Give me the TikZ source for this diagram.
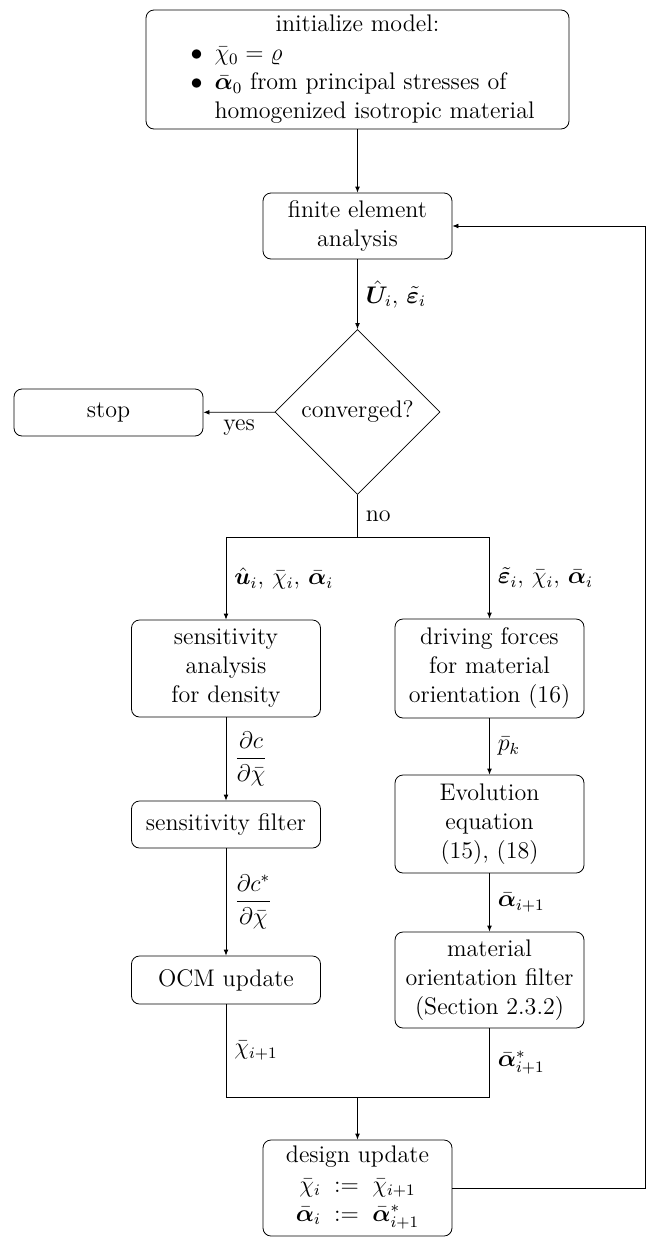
\documentclass[tikz,border=0pt]{standalone}
\usepackage{amsmath,bm}
\usetikzlibrary{shapes.geometric,arrows.meta}
\begin{document}
\begin{tikzpicture}[x=0.5pt,y=-0.5pt,
  every node/.style={font=\fontsize{12}{14.5}\selectfont},
  box/.style={draw, rounded corners=4pt, minimum width=94.5pt, align=center, inner sep=2pt},
  arr/.style={-{Latex[length=3pt,width=2.4pt]}},
  lab/.style={right, inner sep=4pt}]
\useasboundingbox (0,0) rectangle (646,1237);

\node[box, minimum width=211.5pt, minimum height=59.5pt, inner sep=0pt] (init) at (357.5,69.5)
 {\begin{minipage}{203pt}\centering initialize model:\par\raggedright
  \begin{list}{$\bullet$}{\setlength{\leftmargin}{30pt}\setlength{\labelsep}{6pt}\setlength{\labelwidth}{24pt}\setlength{\itemsep}{0pt}\setlength{\parsep}{0pt}\setlength{\topsep}{0pt}\setlength{\partopsep}{0pt}}
  \item $\bar\chi_0=\varrho$
  \item $\bar{\bm\alpha}_0$ from principal stresses of homogenized isotropic material
  \end{list}\end{minipage}};

\node[box, minimum height=33pt] (fea) at (357.5,226) {finite element\\analysis};
\node[draw, diamond, aspect=1, minimum width=82.5pt, minimum height=82.5pt, inner sep=0pt] (dia) at (357.5,412) {converged?};
\node[box, minimum height=23.5pt] (stop) at (108.5,412.5) {stop};
\node[box, minimum height=48.5pt] (sens) at (226,668.5) {sensitivity\\analysis\\for density};
\node[box, minimum height=49.5pt] (drive) at (489.5,668.5) {driving forces\\for material\\orientation (16)};
\node[box, minimum height=23.5pt] (sfilt) at (226,824.5) {sensitivity filter};
\node[box, minimum height=49pt] (evol) at (489.5,824) {Evolution\\equation\\(15), (18)};
\node[box, minimum height=24pt] (ocm) at (226,980) {OCM update};
\node[box, minimum height=48pt] (mof) at (489.5,980) {material\\orientation filter\\(Section 2.3.2)};
\node[box, minimum height=48pt] (design) at (357.5,1188)
 {design update\\[1pt] $\begin{array}{@{}r@{\;\;:=\;\;}l@{}}\bar\chi_i & \bar\chi_{i+1}\\ \bar{\bm\alpha}_i & \bar{\bm\alpha}^*_{i+1}\end{array}$};

\coordinate (split) at (357.5,537);
\coordinate (bl) at (226,537);
\coordinate (br) at (489.5,537);
\coordinate (jl) at (226,1097);
\coordinate (jr) at (489.5,1097);
\coordinate (jm) at (357.5,1097);
\coordinate (lb) at (645,1188);
\coordinate (lt) at (645,226);

\draw[arr] (init) -- (fea);
\draw[arr] (fea) -- node[lab]{$\hat{\bm U}_i,\,\tilde{\bm\varepsilon}_i$} (dia);
\draw[arr] (dia) -- node[below]{yes} (stop);
\draw (dia.south) -- node[lab]{no} (split);
\draw (bl) -- (br);
\draw[arr] (bl) -- node[lab]{$\hat{\bm u}_i,\,\bar\chi_i,\,\bar{\bm\alpha}_i$} (sens);
\draw[arr] (br) -- node[lab]{$\tilde{\bm\varepsilon}_i,\,\bar\chi_i,\,\bar{\bm\alpha}_i$} (drive);
\draw[arr] (sens) -- node[lab]{$\dfrac{\partial c}{\partial\bar\chi}$} (sfilt);
\draw[arr] (sfilt) -- node[lab]{$\dfrac{\partial c^*}{\partial\bar\chi}$} (ocm);
\draw[arr] (drive) -- node[lab]{$\bar p_k$} (evol);
\draw[arr] (evol) -- node[lab]{$\bar{\bm\alpha}_{i+1}$} (mof);
\draw (ocm) -- node[lab]{$\bar\chi_{i+1}$} (jl) -- (jr) -- node[lab]{$\bar{\bm\alpha}^*_{i+1}$} (mof);
\draw[arr] (jm) -- (design);
\draw[arr] (design.east) -- (lb) -- (lt) -- (fea.east);
\end{tikzpicture}
\end{document}
